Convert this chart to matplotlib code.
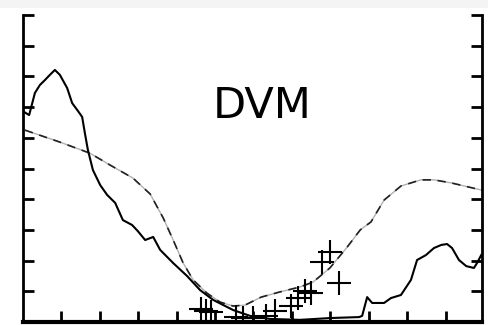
import matplotlib
matplotlib.use("Agg")
import matplotlib.pyplot as plt
from matplotlib.patches import Rectangle

# Solid curve
solid_x = [0.03, 0.16, 0.31, 0.44, 0.57, 0.70, 0.83, 0.96, 1.15, 1.28, 1.41, 1.54, 1.61, 1.69,
           1.82, 2.01, 2.19, 2.40, 2.60, 2.84, 2.99, 3.18, 3.39, 3.57, 3.91, 4.27, 4.61, 4.95,
           5.47, 5.91, 6.43, 7.21, 8.02, 8.75, 8.83, 8.96, 9.09, 9.40, 9.58, 9.84, 10.10, 10.26,
           10.49, 10.70, 10.89, 11.04, 11.17, 11.35, 11.54, 11.74, 11.82, 11.93]
solid_y = [6.84, 6.74, 7.46, 7.72, 7.88, 8.05, 8.21, 8.05, 7.62, 7.13, 6.91, 6.68, 6.16, 5.60,
           4.95, 4.46, 4.14, 3.88, 3.32, 3.16, 2.96, 2.67, 2.77, 2.35, 1.92, 1.50, 1.04, 0.72,
           0.39, 0.20, 0.10, 0.07, 0.13, 0.16, 0.20, 0.81, 0.62, 0.62, 0.78, 0.88, 1.37, 2.02,
           2.18, 2.41, 2.51, 2.54, 2.41, 2.02, 1.82, 1.76, 1.92, 2.18]

# Dashed curve
dash_x = [0.05, 0.96, 1.74, 2.27, 2.86, 3.31, 3.65, 3.91, 4.17, 4.43, 4.79, 5.13, 5.47, 5.78,
          6.20, 6.69, 7.21, 7.55, 7.99, 8.44, 8.78, 9.06, 9.40, 9.84, 10.36, 10.70, 11.15, 11.93]
dash_y = [6.25, 5.86, 5.50, 5.11, 4.69, 4.17, 3.39, 2.67, 1.92, 1.37, 0.94, 0.65, 0.52, 0.55,
          0.81, 0.98, 1.14, 1.30, 1.76, 2.44, 3.00, 3.26, 3.97, 4.43, 4.63, 4.63, 4.53, 4.30]

# Cross markers
cross_x = [4.64, 4.77, 4.90, 5.55, 5.73, 5.99, 6.33, 6.56, 6.98, 7.16, 7.34, 7.50, 7.79, 7.99, 8.23]
cross_y = [0.42, 0.36, 0.33, 0.16, 0.13, 0.13, 0.20, 0.36, 0.52, 0.78, 1.01, 0.94, 1.95, 2.28, 1.27]

x_ticks = [1, 2, 3, 4, 5, 6, 7, 8, 9, 10, 11]
y_ticks = [0, 1, 2, 3, 4, 5, 6, 7, 8, 9, 10]
label = "DVM"

W, H = 488, 325
fig = plt.figure(figsize=(W / 100, H / 100), dpi=100)
fig.patch.set_facecolor("white")
fig.patches.append(Rectangle((0, 1 - 8 / H), 1, 8 / H, transform=fig.transFigure,
                             facecolor="#f4f4f4", edgecolor="none", zorder=0))

ax = fig.add_axes([23 / W, 3 / H, (482 - 23) / W, (322 - 15) / H])
ax.set_xlim(0, 11.95)
ax.set_ylim(0, 10)

ax.plot(dash_x, dash_y, color="#b0b0b0", lw=1.0, zorder=2, solid_joinstyle="round")
ax.plot(dash_x, dash_y, color="#222222", lw=1.2, linestyle=(0, (5, 4)), zorder=3,
        dash_joinstyle="round")
ax.plot(solid_x, solid_y, color="black", lw=1.5, zorder=4, solid_joinstyle="round")
ax.plot(cross_x, cross_y, linestyle="none", marker="+", markersize=17,
        markeredgewidth=1.5, color="black", zorder=5)

ax.text(6.22, 7.04, label, fontsize=31, family="DejaVu Sans", ha="center", va="center",
        color="black")

ax.spines["top"].set_visible(False)
ax.spines["left"].set_linewidth(2)
ax.spines["right"].set_linewidth(2)
ax.spines["bottom"].set_linewidth(3)

ax.set_xticks(x_ticks)
ax.set_yticks(y_ticks)
ax.tick_params(axis="x", direction="in", length=8, width=2, labelbottom=False)
ax.tick_params(axis="y", direction="in", length=8, width=2, labelleft=False,
               right=True, labelright=False)
for t in ax.yaxis.get_major_ticks():
    t.tick1line.set_clip_on(False)
    t.tick2line.set_clip_on(False)

fig.savefig("out.png", dpi=100)
